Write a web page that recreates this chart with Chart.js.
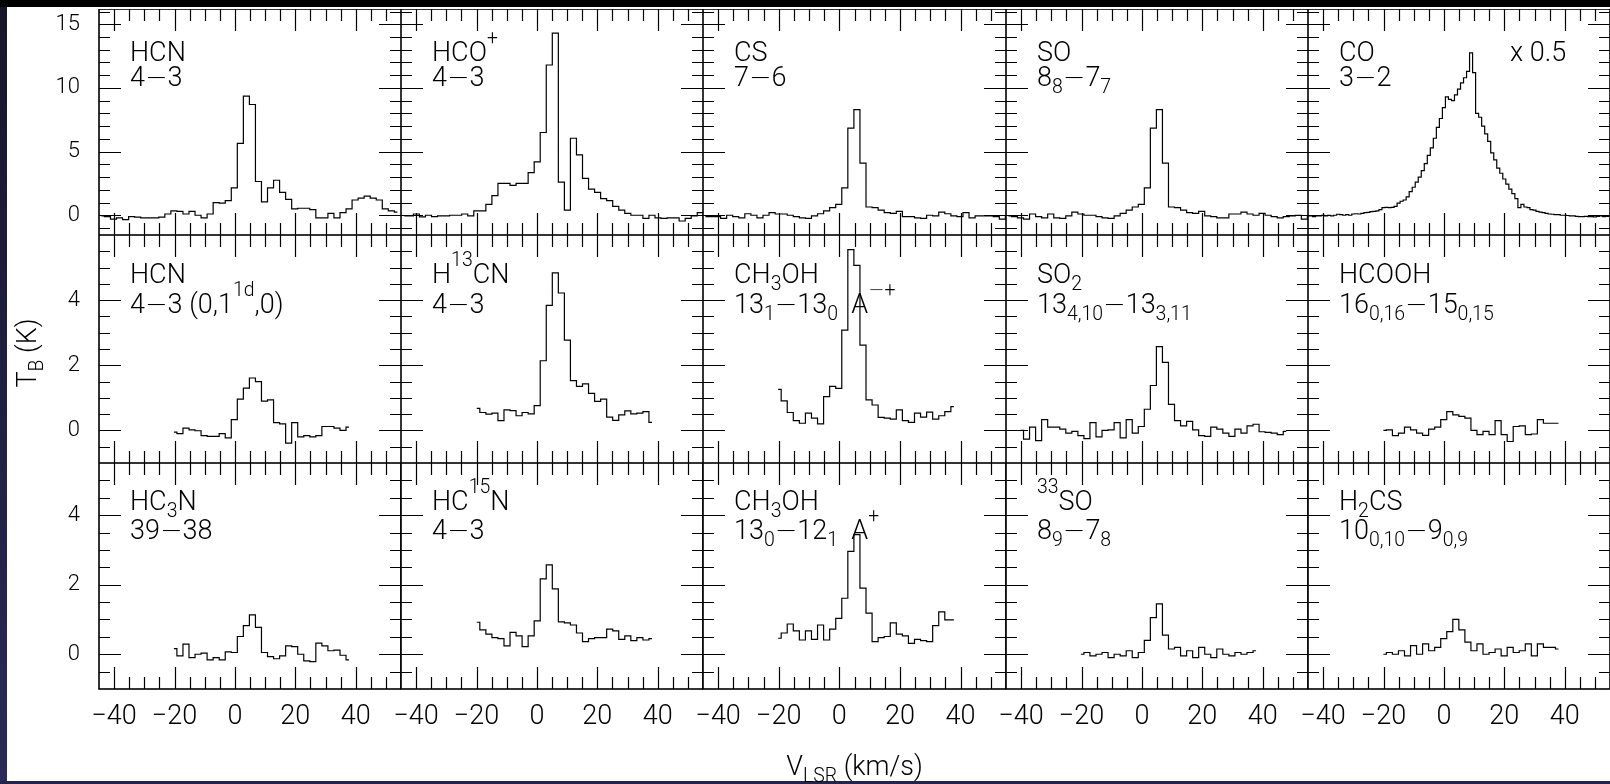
<!DOCTYPE html>
<html>
<head>
<meta charset="utf-8">
<script src="https://cdn.jsdelivr.net/npm/chart.js@4.4.1/dist/chart.umd.min.js"></script>
<style>
  html, body { margin: 0; padding: 0; background: #000; }
  #figure { position: relative; width: 1610px; height: 784px; overflow: hidden; background: #000; }
  #edgeLeft { position: absolute; left: 0; top: 7px; width: 7px; height: 777px; background: linear-gradient(#15152a, #2a2a58); }
  #edgeBottom { position: absolute; left: 0; top: 781px; width: 1610px; height: 3px; background: #24244a; }
  #paper { position: absolute; left: 7px; top: 7px; width: 1603px; height: 774px; background: #fff; }
  canvas { position: absolute; }
</style>
</head>
<body>
<div id="figure">
  <div id="edgeLeft"></div>
  <div id="paper"></div>
  <div id="edgeBottom"></div>
</div>
<script>
const FONT = 'Roboto';
const MINUS_FONT = 'DejaVu Sans';

// velocity axis (km/s) shared by every panel
const V_MIN = -45;
const V_MAX = 55;
const X_TICK_LABELS = [-40, -20, 0, 20, 40];
const X_MINOR_STEP = 5;

// brightness axis (K) per row
const ROW_Y_RANGES = [[-1.55, 16.2], [-1, 6], [-1, 5.5]];
const ROW_Y_TICK_LABELS = [[0, 5, 10, 15], [0, 2, 4], [0, 2, 4]];
const ROW_Y_MINOR_STEP = [1, 0.5, 0.5];

// spectra: centre of first channel (km/s), channel width (km/s), T_B per channel (K)
const hcn43Start = -44.2, hcn43Step = 2;
const hcn43 = [-0.05, -0.1, -0.3, -0.2, -0.35, -0.1, -0.15, -0.2, -0.2, -0.2,
  -0.15, 0.1, 0.35, 0.3, 0.1, 0.3, 0.0, -0.2, 0.1, 1.0,
  0.95, 1.15, 2.15, 5.65, 9.35, 8.7, 2.65, 1.05, 2.15, 2.75,
  1.8, 1.25, 0.5, 0.55, 0.55, 0.45, -0.2, -0.2, 0.15, -0.2,
  0.2, 0.5, 1.2, 1.35, 1.5, 1.35, 1.2, 0.5, 0.35, 0.25];

const hcoPlusStart = -43.9, hcoPlusStep = 2;
const hcoPlus = [-0.05, -0.05, 0.1, -0.12, 0.0, -0.1, -0.05, -0.05, 0.0, 0.0,
  0.1, -0.05, 0.35, 0.35, 0.85, 1.55, 2.5, 2.5, 2.35, 2.5,
  2.5, 3.35, 4.2, 6.5, 11.8, 14.3, 2.6, 0.4, 6.05, 4.75,
  2.9, 2.05, 1.8, 1.3, 1.15, 0.7, 0.4, 0.15, 0.0, 0.0,
  -0.25, 0.0, -0.2, -0.25, -0.2, -0.2, -0.45, -0.25, -0.05, 0.2, 0.0];

const cs76Start = -44.2, cs76Step = 2;
const cs76 = [-0.1, -0.1, -0.1, -0.25, 0.0, -0.1, -0.2, 0.12, 0.0, -0.2,
  0.0, 0.2, 0.1, 0.1, 0.0, -0.1, -0.2, -0.25, -0.05, 0.12,
  0.35, 0.6, 0.85, 2.15, 6.85, 8.3, 4.1, 0.65, 0.6, 0.4,
  0.2, 0.15, 0.3, -0.1, -0.1, -0.2, -0.25, 0.0, -0.05, 0.25,
  0.12, -0.05, -0.1, 0.2, -0.2, -0.05, -0.05, -0.05, -0.1, -0.3, -0.1];

const so8877Start = -44.2, so8877Step = 2;
const so8877 = [-0.05, -0.1, -0.2, -0.3, 0.1, -0.1, -0.2, 0.1, -0.2, -0.25,
  -0.05, 0.25, 0.1, 0.0, 0.0, -0.1, -0.2, -0.25, -0.05, 0.15,
  0.4, 0.65, 0.85, 2.15, 6.85, 8.3, 4.1, 0.65, 0.6, 0.4,
  0.2, 0.15, 0.3, -0.05, -0.1, -0.2, -0.2, 0.1, 0.1, 0.25,
  0.1, 0.0, 0.15, 0.0, -0.1, -0.2, -0.1, -0.05, 0.0, -0.3, -0.1];

const co32Start = -45, co32Step = 1;
const co32 = [-0.05, -0.05, -0.1, -0.05, -0.05, 0.0, -0.05, 0.0, -0.05, 0.0,
  0.08, 0.05, 0.0, 0.05, 0.0, 0.1, 0.12, 0.1, 0.15, 0.2,
  0.22, 0.28, 0.3, 0.35, 0.45, 0.6, 0.62, 0.6, 0.62, 0.7,
  0.95, 1.1, 1.2, 1.45, 1.85, 2.2, 2.6, 3.0, 3.5, 4.05,
  4.7, 5.3, 6.05, 6.9, 7.6, 8.45, 9.3, 9.1, 9.0, 9.45,
  9.9, 10.4, 10.8, 11.3, 12.75, 11.2, 8.0, 7.7, 7.0, 6.4,
  5.8, 4.9, 4.35, 3.7, 3.3, 2.85, 2.45, 2.05, 1.7, 1.3,
  0.6, 0.85, 0.65, 0.6, 0.45, 0.4, 0.3, 0.25, 0.2, 0.15,
  0.1, 0.08, 0.05, 0.05, 0.0, 0.0, -0.02, -0.05, -0.05, -0.08,
  -0.1, -0.1, -0.08, -0.1, -0.1, -0.12, -0.08, -0.05, -0.1, -0.08, -0.05];

const hcnV2Start = -20.2, hcnV2Step = 2;
const hcnV2 = [-0.05, -0.1, 0.07, 0.02, -0.01, -0.16, -0.18, -0.18, -0.1, -0.23,
  0.33, 0.96, 1.3, 1.61, 1.5, 0.9, 0.94, 0.24, 0.2, -0.39,
  0.24, -0.2, -0.16, -0.2, -0.16, 0.12, 0.12, 0.07, 0.0, 0.1];

const h13cnStart = -19.9, h13cnStep = 2;
const h13cn = [0.68, 0.55, 0.5, 0.53, 0.3, 0.63, 0.61, 0.45, 0.55, 0.51,
  0.76, 2.14, 3.84, 4.84, 4.22, 2.77, 1.53, 1.35, 1.43, 1.14,
  0.89, 0.96, 0.41, 0.31, 0.48, 0.6, 0.51, 0.53, 0.58, 0.25];

const ch3ohAStart = -20.2, ch3ohAStep = 2;
const ch3ohA = [1.26, 0.91, 0.55, 0.3, 0.22, 0.53, 0.38, 0.2, 1.04, 1.35,
  1.29, 3.08, 5.55, 5.07, 2.62, 0.94, 0.78, 0.4, 0.38, 0.35,
  0.63, 0.3, 0.25, 0.53, 0.41, 0.56, 0.35, 0.45, 0.58, 0.73];

const so2Start = -40.2, so2Step = 2;
const so2 = [0.0, -0.27, 0.1, -0.31, 0.33, 0.1, 0.1, 0.04, -0.08, -0.03,
  -0.16, -0.25, 0.24, -0.2, 0.0, 0.02, 0.24, -0.23, 0.33, -0.08,
  0.12, 0.65, 1.38, 2.57, 2.09, 0.8, 0.3, 0.14, 0.28, 0.02,
  -0.16, -0.18, 0.1, 0.04, -0.08, -0.18, 0.04, -0.08, 0.14, 0.19,
  -0.04, -0.06, -0.08, -0.13, -0.03];

const hcoohStart = -20.05, hcoohStep = 2;
const hcooh = [0.0, 0.02, -0.16, -0.08, 0.1, 0.02, -0.08, -0.15, 0.04, 0.1,
  0.33, 0.58, 0.48, 0.43, 0.38, 0.0, -0.13, -0.03, -0.13, 0.3,
  -0.13, -0.34, 0.12, 0.14, -0.13, -0.11, 0.33, 0.22, 0.22, 0.22];

const hc3nStart = -20.2, hc3nStep = 2;
const hc3n = [0.16, -0.05, 0.29, -0.1, 0.0, 0.03, -0.16, -0.1, -0.16, 0.07,
  0.05, 0.51, 0.82, 1.13, 0.77, 0.05, -0.07, -0.13, -0.05, 0.24,
  0.22, 0.0, -0.19, -0.21, 0.32, 0.24, 0.1, 0.12, -0.03, -0.16];

const hc15nStart = -19.9, hc15nStep = 2;
const hc15n = [0.92, 0.7, 0.58, 0.48, 0.45, 0.24, 0.63, 0.53, 0.22, 0.53,
  0.96, 2.17, 2.57, 1.88, 0.93, 0.9, 0.84, 0.61, 0.36, 0.45,
  0.48, 0.48, 0.72, 0.67, 0.43, 0.53, 0.39, 0.48, 0.41, 0.45];

const ch3ohBStart = -20.2, ch3ohBStep = 2;
const ch3ohB = [0.46, 0.61, 0.87, 0.67, 0.41, 0.67, 0.43, 0.84, 0.41, 0.72,
  1.03, 1.61, 2.96, 3.44, 1.9, 1.18, 0.36, 0.48, 0.51, 0.9,
  0.58, 0.53, 0.31, 0.43, 0.39, 0.36, 0.82, 1.22, 0.99, 0.99];

const so33Start = -20.2, so33Step = 2;
const so33 = [0.0, 0.05, -0.05, 0.0, 0.05, -0.1, 0.0, -0.05, 0.1, -0.1,
  0.05, 0.4, 1.05, 1.45, 0.55, 0.15, 0.2, -0.05, 0.1, -0.1,
  0.2, 0.0, -0.1, 0.15, 0.0, -0.05, 0.05, 0.0, 0.05, 0.1];

const h2csStart = -20.05, h2csStep = 2;
const h2cs = [0.0, 0.05, 0.0, 0.1, -0.05, 0.25, 0.0, 0.3, 0.1, 0.2,
  0.45, 0.65, 1.0, 0.7, 0.35, 0.1, 0.3, 0.0, 0.05, 0.15,
  -0.05, 0.2, 0.05, 0.1, 0.3, -0.05, 0.3, 0.2, 0.2, 0.15];

// panel texts, row by row
const SPECIES = ['HCN', 'HCO^{+}', 'CS', 'SO', 'CO',
  'HCN', 'H^{13}CN', 'CH_{3}OH', 'SO_{2}', 'HCOOH',
  'HC_{3}N', 'HC^{15}N', 'CH_{3}OH', '^{33}SO', 'H_{2}CS'];
const TRANSITIONS = ['4\u22123', '4\u22123', '7\u22126', '8_{8}\u22127_{7}', '3\u22122',
  '4\u22123 (0,1^{1d},0)', '4\u22123', '13_{1}\u221213_{0}  A^{\u2212+}', '13_{4,10}\u221213_{3,11}', '16_{0,16}\u221215_{0,15}',
  '39\u221238', '4\u22123', '13_{0}\u221212_{1}  A^{+}', '8_{9}\u22127_{8}', '10_{0,10}\u22129_{0,9}'];
const SCALE_NOTES = ['', '', '', '', 'x 0.5', '', '', '', '', '', '', '', '', '', ''];

const SPECTRA = [
  [hcn43Start, hcn43Step, hcn43], [hcoPlusStart, hcoPlusStep, hcoPlus], [cs76Start, cs76Step, cs76],
  [so8877Start, so8877Step, so8877], [co32Start, co32Step, co32],
  [hcnV2Start, hcnV2Step, hcnV2], [h13cnStart, h13cnStep, h13cn], [ch3ohAStart, ch3ohAStep, ch3ohA],
  [so2Start, so2Step, so2], [hcoohStart, hcoohStep, hcooh],
  [hc3nStart, hc3nStep, hc3n], [hc15nStart, hc15nStep, hc15n], [ch3ohBStart, ch3ohBStep, ch3ohB],
  [so33Start, so33Step, so33], [h2csStart, h2csStep, h2cs]
];

// layout (page pixels)
const COL_X = [99, 401, 703, 1006, 1308, 1610];
const ROW_Y = [9, 235, 463, 689];
const Y_AXIS_WIDTH = 99;
const X_AXIS_HEIGHT = 95;
const LABEL_X = 31;
const LABEL_BASELINES = [[52, 77], [48, 78], [47, 76]];
const TEXT_SIZE = 27;
const SMALL = 0.72;

function richParts(text) {
  const parts = [];
  const re = /([_^])\{([^}]*)\}|([^_^]+)/g;
  let m;
  while ((m = re.exec(text)) !== null) {
    if (m[3]) parts.push({ str: m[3], kind: 'base' });
    else parts.push({ str: m[2], kind: m[1] === '_' ? 'sub' : 'sup' });
  }
  return parts;
}

// draws a line of text with _{sub} and ^{sup} parts; the minus sign is taken from DejaVu (wide dash)
function drawRich(ctx, text, x, y, size, measureOnly = false) {
  const start = x;
  richParts(text).forEach(part => {
    const fs = part.kind === 'base' ? size : size * SMALL;
    const dy = part.kind === 'sub' ? size * 0.26 : part.kind === 'sup' ? -size * 0.62 : 0;
    part.str.split(/(\u2212)/).filter(Boolean).forEach(chunk => {
      ctx.font = chunk === '\u2212' ? `200 ${fs}px "${MINUS_FONT}"` : `300 ${fs}px ${FONT}`;
      if (!measureOnly) ctx.fillText(chunk, x, y + dy);
      x += ctx.measureText(chunk).width;
    });
  });
  return x - start;
}

function stepValues(lo, hi, step) {
  const out = [];
  for (let i = Math.ceil(lo / step - 1e-9); i * step <= hi + 1e-9; i++) out.push(i * step);
  return out;
}

const frameTicks = {
  id: 'frameTicks',
  afterDatasetsDraw(chart) {
    const { ctx, chartArea: a } = chart;
    const xs = chart.scales.x;
    const ys = chart.scales.y;
    const row = chart.$row;
    ctx.save();
    ctx.strokeStyle = '#000';
    ctx.lineWidth = 1.2;
    ctx.beginPath();
    stepValues(V_MIN, V_MAX, X_MINOR_STEP).forEach(v => {
      const px = Math.round(xs.getPixelForValue(v)) + 0.5;
      if (px <= a.left + 1 || px >= a.right - 1) return;
      const len = X_TICK_LABELS.includes(v) ? 22 : 12;
      ctx.moveTo(px, a.top); ctx.lineTo(px, a.top + len);
      ctx.moveTo(px, a.bottom); ctx.lineTo(px, a.bottom - len);
    });
    const [yLo, yHi] = ROW_Y_RANGES[row];
    stepValues(yLo, yHi, ROW_Y_MINOR_STEP[row]).forEach(v => {
      const py = Math.round(ys.getPixelForValue(v)) + 0.5;
      if (py <= a.top + 1 || py >= a.bottom - 1) return;
      const len = ROW_Y_TICK_LABELS[row].includes(v) ? 22 : 11;
      ctx.moveTo(a.left, py); ctx.lineTo(a.left + len, py);
      ctx.moveTo(a.right, py); ctx.lineTo(a.right - len, py);
    });
    ctx.stroke();
    ctx.lineWidth = 1.6;
    ctx.strokeRect(a.left, a.top, a.right - a.left, a.bottom - a.top);
    ctx.restore();
  }
};

const panelText = {
  id: 'panelText',
  afterDraw(chart) {
    const { ctx, chartArea: a } = chart;
    const i = chart.$index;
    const row = chart.$row;
    const [b1, b2] = LABEL_BASELINES[row];
    ctx.save();
    ctx.fillStyle = '#000';
    ctx.textBaseline = 'alphabetic';
    ctx.textAlign = 'left';
    drawRich(ctx, SPECIES[i], a.left + LABEL_X, a.top + b1, TEXT_SIZE);
    drawRich(ctx, TRANSITIONS[i], a.left + LABEL_X, a.top + b2, TEXT_SIZE);
    if (SCALE_NOTES[i]) drawRich(ctx, SCALE_NOTES[i], a.left + 202, a.top + b1, TEXT_SIZE);

    if (i === 5) {
      // y axis title, rotated
      const w = drawRich(ctx, 'T_{B} (K)', 0, 0, TEXT_SIZE, true);
      ctx.translate(36, 353 - ROW_Y[1]);
      ctx.rotate(-Math.PI / 2);
      drawRich(ctx, 'T_{B} (K)', -w / 2, 0, TEXT_SIZE);
    }
    if (i === 12) {
      const w = drawRich(ctx, 'V_{LSR} (km/s)', 0, 0, TEXT_SIZE, true);
      const cx = (COL_X[0] + COL_X[5]) / 2 - (COL_X[2] - 20);
      drawRich(ctx, 'V_{LSR} (km/s)', cx - w / 2, 775 - ROW_Y[2], TEXT_SIZE);
    }
    ctx.restore();
  }
};

function createPanel(figure, index) {
  const row = Math.floor(index / 5);
  const col = index % 5;
  const left = COL_X[col];
  const top = ROW_Y[row];
  const w = COL_X[col + 1] - left;
  const h = ROW_Y[row + 1] - top;
  const showX = row === 2;
  const showY = col === 0;
  const padLeft = showY ? Y_AXIS_WIDTH : (showX ? 20 : 0);
  const padBottom = showX ? X_AXIS_HEIGHT : 0;

  const canvas = document.createElement('canvas');
  canvas.width = w + padLeft;
  canvas.height = h + padBottom;
  canvas.style.left = (left - padLeft) + 'px';
  canvas.style.top = top + 'px';
  figure.append(canvas);

  const [start, step, values] = SPECTRA[index];
  const points = values.map((y, k) => ({ x: start + k * step, y }));
  const [yMin, yMax] = ROW_Y_RANGES[row];

  return new Chart(canvas, {
    type: 'line',
    data: {
      datasets: [{
        data: points,
        borderColor: '#000',
        borderWidth: 1.2,
        pointRadius: 0,
        stepped: 'middle',
        fill: false
      }]
    },
    options: {
      responsive: false,
      animation: false,
      events: [],
      layout: { autoPadding: false, padding: { left: showY ? 0 : padLeft, top: 0, right: 0, bottom: 0 } },
      plugins: { legend: { display: false }, tooltip: { enabled: false } },
      scales: {
        x: {
          type: 'linear',
          min: V_MIN,
          max: V_MAX,
          display: showX,
          grid: { display: false, drawTicks: false },
          border: { display: false },
          afterBuildTicks: s => { s.ticks = X_TICK_LABELS.map(v => ({ value: v })); },
          afterFit: s => {
            s.paddingLeft = 0;
            s.paddingRight = 0;
            if (showX) s.height = X_AXIS_HEIGHT;
          },
          ticks: {
            autoSkip: false,
            maxRotation: 0,
            padding: 12,
            color: '#000',
            font: { family: FONT, size: 27, weight: 300 },
            callback: v => String(v).replace('-', '\u2212')
          }
        },
        y: {
          type: 'linear',
          min: yMin,
          max: yMax,
          display: showY,
          grid: { display: false, drawTicks: false },
          border: { display: false },
          afterBuildTicks: s => { s.ticks = ROW_Y_TICK_LABELS[row].map(v => ({ value: v })); },
          afterFit: s => {
            s.paddingTop = 0;
            s.paddingBottom = 0;
            if (showY) s.width = Y_AXIS_WIDTH;
          },
          ticks: {
            padding: 19,
            color: '#000',
            font: { family: FONT, size: 22, weight: 300 },
            callback: v => String(v).replace('-', '\u2212')
          }
        }
      }
    },
    plugins: [
      { id: 'tagPanel', beforeInit(c) { c.$index = index; c.$row = row; } },
      frameTicks,
      panelText
    ]
  });
}

const figure = document.getElementById('figure');
SPECTRA.forEach((_, i) => createPanel(figure, i));
</script>
</body>
</html>
